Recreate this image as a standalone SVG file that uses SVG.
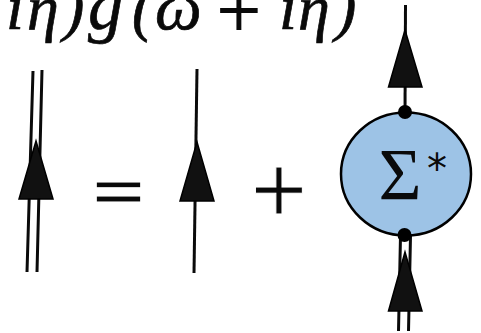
<svg xmlns="http://www.w3.org/2000/svg" width="481" height="333" viewBox="0 0 481 333">
<style>
.ln{stroke:#0a0a0a;fill:none;stroke-width:3}
.ah{fill:#111;stroke:#000;stroke-width:1.5;stroke-linejoin:miter}
.m{font-family:"Liberation Serif","DejaVu Serif",serif;font-style:italic;font-size:64px;fill:#0a0a0a;stroke:#0a0a0a;stroke-width:.7}
.s{font-family:"DejaVu Sans","Liberation Sans",sans-serif;fill:#0a0a0a}
.t{stroke:#fff;stroke-width:1}
.g{font-family:"Liberation Serif","DejaVu Serif",serif;fill:#0a0a0a}
</style>
<g id="formula">
<text class="m" y="29"><tspan x="6">i</tspan><tspan x="27">η</tspan><tspan x="63">)</tspan><tspan x="88" font-size="70">g</tspan><tspan x="132">(</tspan><tspan x="155" font-size="66">ω</tspan><tspan x="279">i</tspan><tspan x="298">η</tspan><tspan x="335">)</tspan></text>
<text class="s" x="239" y="30" font-size="60" text-anchor="middle">+</text>
</g>
<g id="connectors">
<path class="ln" d="M33 71L27 272M42 70L37 272"/>
<path class="ln" d="M197 69L194 273"/>
<path class="ln" d="M405.500 5L405 112"/>
<path class="ln" d="M400.500 236L398.500 331M410.500 236L408.500 331"/>
</g>
<g id="double-line"><polygon class="ah" points="36,141 19,199 53,199"/></g>
<g id="single-line"><polygon class="ah" points="197,142 180,201 214,201"/></g>
<g id="equals"><text class="s t" x="118.500" y="214" font-size="71" text-anchor="middle">=</text></g>
<g id="plus"><text class="s t" x="279" y="213.500" font-size="75" text-anchor="middle">+</text></g>
<g id="self-energy">
<ellipse cx="406" cy="174" rx="65" ry="61.500" fill="#9dc3e6" stroke="#000" stroke-width="2.500"/>
<circle cx="405" cy="112" r="7" fill="#000"/>
<circle cx="404.500" cy="235" r="7" fill="#000"/>
<text class="g" x="400" y="200" font-size="74" text-anchor="middle">Σ</text>
<text class="s" x="437" y="183" font-size="40" text-anchor="middle">*</text>
</g>
<g id="arrow-out"><polygon class="ah" points="405,30 388.500,87 422,87"/></g>
<g id="arrow-in"><polygon class="ah" points="405,252 388.500,311 422,311"/></g>
</svg>
